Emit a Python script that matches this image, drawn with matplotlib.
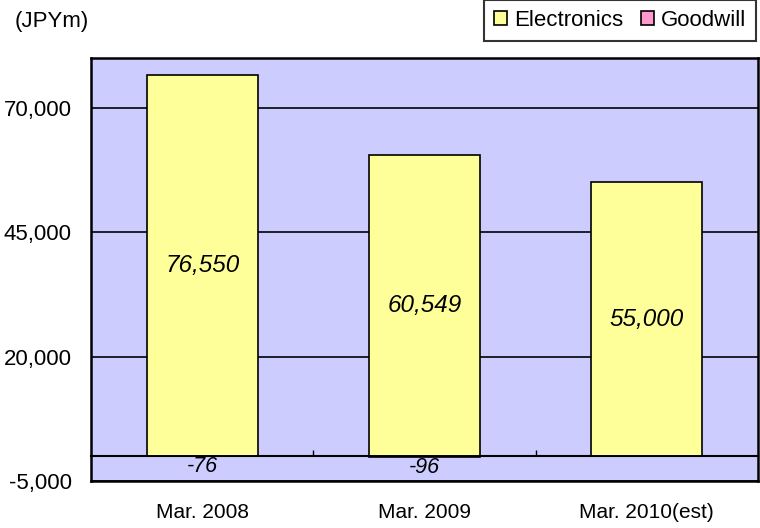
import numpy as np
import matplotlib.pyplot as plt

plt.rcParams['font.family'] = ['Liberation Sans', 'DejaVu Sans']

# data
categories = ['Mar. 2008', 'Mar. 2009', 'Mar. 2010(est)']
electronics = [76550, 60549, 55000]
goodwill = [-76, -96, 0]
goodwill_labels = ['-76', '-96', '']
yticks = [-5000, 20000, 45000, 70000]
ymin, ymax = -5000, 80000

fig = plt.figure(figsize=(7.6, 5.28), dpi=100)
ax = fig.add_axes([91 / 760, 47 / 528, 667 / 760, 423 / 528])
ax.set_facecolor('#CCCCFF')

x = np.arange(len(categories))
ax.bar(x, electronics, width=0.5, color='#FFFF99', edgecolor='black', lw=1.2,
       label='Electronics', zorder=3)
ax.bar(x, goodwill, width=0.5, color='#FF99CC', edgecolor='black', lw=1.2,
       label='Goodwill', zorder=3)

# value labels
for xi, v in zip(x, electronics):
    ax.text(xi, v / 2, f'{v:,}', ha='center', va='center', fontsize=17.5,
            style='italic', zorder=5)
for xi, v, lab in zip(x, goodwill, goodwill_labels):
    if lab:
        ax.annotate(lab, (xi, v), xytext=(0, 0), textcoords='offset points',
                    ha='center', va='top', fontsize=15.5, style='italic', zorder=5)

ax.set_xlim(-0.5, len(categories) - 0.5)
ax.set_ylim(ymin, ymax)
ax.set_yticks(yticks)
ax.set_yticklabels([f'{t:,}' for t in yticks])
ax.yaxis.grid(True, color='black', lw=1.2)
ax.set_axisbelow(True)
ax.tick_params(axis='y', length=0, pad=14, labelsize=16)

ax.set_xticks(x)
ax.set_xticklabels(categories)
ax.tick_params(axis='x', length=0, pad=16, labelsize=15)

for s in ax.spines.values():
    s.set_linewidth(1.8)

# zero line with category separator ticks
sec = ax.secondary_xaxis((0 - ymin) / (ymax - ymin))
sec.set_xticks(x[:-1] + 0.5)
sec.tick_params(axis='x', direction='in', length=4.5, width=1, labelbottom=False,
                labeltop=False)
sec.spines['bottom'].set_linewidth(1.5)
sec.spines['top'].set_linewidth(1.5)

fig.text(15 / 760, 1 - 22 / 528, '(JPYm)', fontsize=16, va='center')

leg = fig.legend(loc='upper left', bbox_to_anchor=(484 / 760, 1.0), ncol=2,
                 fontsize=16, frameon=True, fancybox=False, handlelength=0.6,
                 handleheight=0.6, handletextpad=0.3, columnspacing=0.8,
                 borderpad=0.45, borderaxespad=0)
leg.get_frame().set_edgecolor('black')
leg.get_frame().set_linewidth(1.5)

fig.savefig('out.png', dpi=100)
